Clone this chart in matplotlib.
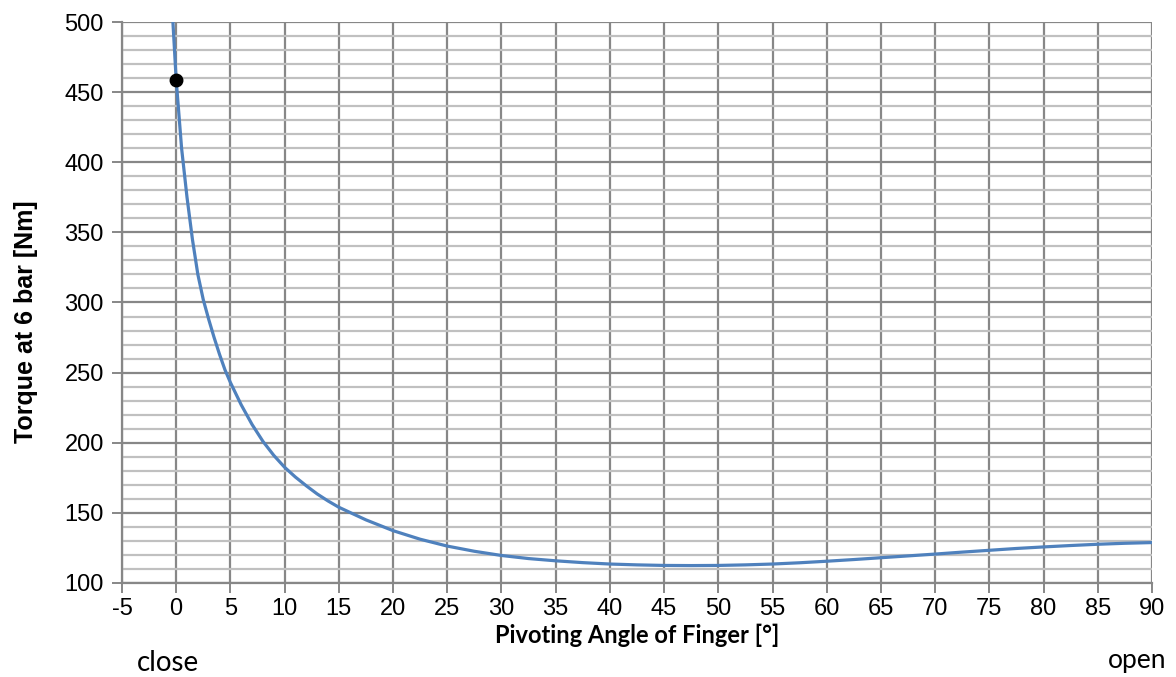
import numpy as np
import matplotlib.pyplot as plt
from matplotlib.ticker import MultipleLocator

# Data
angle = [-0.3, 0, 0.5, 1, 1.5, 2, 2.5, 3, 3.5, 4, 4.5, 5, 6, 7, 8, 9,
         10, 11, 12, 13, 14, 15, 17.5, 20, 22.5, 25, 27.5, 30, 32.5, 35,
         37.5, 40, 42.5, 45, 47.5, 50, 52.5, 55, 57.5, 60, 62.5, 65,
         67.5, 70, 72.5, 75, 77.5, 80, 82.5, 85, 87.5, 90]
torque = [500, 459, 410, 375, 345, 320, 302, 288, 275, 263, 252, 243,
          227, 213, 201, 191, 182.5, 175.5, 169.3, 163.5, 158.5, 154,
          145, 137.3, 131.2, 126.3, 122.6, 119.6, 117.4, 115.8, 114.5,
          113.5, 112.9, 112.5, 112.4, 112.5, 112.9, 113.5, 114.4, 115.5,
          116.7, 118, 119.3, 120.6, 122, 123.3, 124.6, 125.7, 126.7,
          127.6, 128.3, 128.8]
point_x = [0]
point_y = [459]

x_ticks = list(range(-5, 91, 5))
y_ticks = list(range(100, 501, 50))

plt.rcParams['font.family'] = ['Liberation Sans', 'DejaVu Sans']
plt.rcParams['axes.unicode_minus'] = False

fig = plt.figure(figsize=(11.76, 6.77), dpi=100)
ax = fig.add_axes([0.1037, 0.1389, 0.8759, 0.8286])

# Grid
ax.set_xlim(-5, 90)
ax.set_ylim(100, 500)
ax.set_xticks(x_ticks)
ax.set_yticks(y_ticks)
ax.yaxis.set_minor_locator(MultipleLocator(10))
ax.grid(True, which='major', color='#878787', linewidth=1.6)
ax.grid(True, which='minor', axis='y', color='#c0c0c0', linewidth=1.6)
ax.set_axisbelow(True)

# Curve and marked point
ax.plot(angle, torque, color='#4f81bd', linewidth=2.3, zorder=3)
ax.plot(point_x, point_y, 'o', color='black', markersize=9, zorder=4)

# Axes styling
for side in ['top', 'right']:
    ax.spines[side].set_visible(False)
for side in ['left', 'bottom']:
    ax.spines[side].set_color('#878787')
    ax.spines[side].set_linewidth(1.6)
ax.tick_params(which='major', direction='out', length=7, width=1.4,
               color='#878787', labelsize=17)
ax.tick_params(axis='x', pad=4)
ax.tick_params(axis='y', pad=6)
ax.tick_params(which='minor', length=0)

fig.text(0.022, 0.525, 'Torque at 6 bar [Nm]', ha='center', va='center',
         rotation=90, fontsize=18, fontweight='bold')
fig.text(0.542, 0.062, 'Pivoting Angle of Finger [°]', ha='center', va='center',
         fontsize=17, fontweight='bold', family=['Lato', 'DejaVu Sans'])
fig.text(0.143, 0.021, 'close', ha='center', va='center', fontsize=20,
         family=['Lato', 'DejaVu Sans'])
fig.text(0.967, 0.024, 'open', ha='center', va='center', fontsize=19,
         family=['Lato', 'DejaVu Sans'])

plt.savefig('out.png', dpi=100)
